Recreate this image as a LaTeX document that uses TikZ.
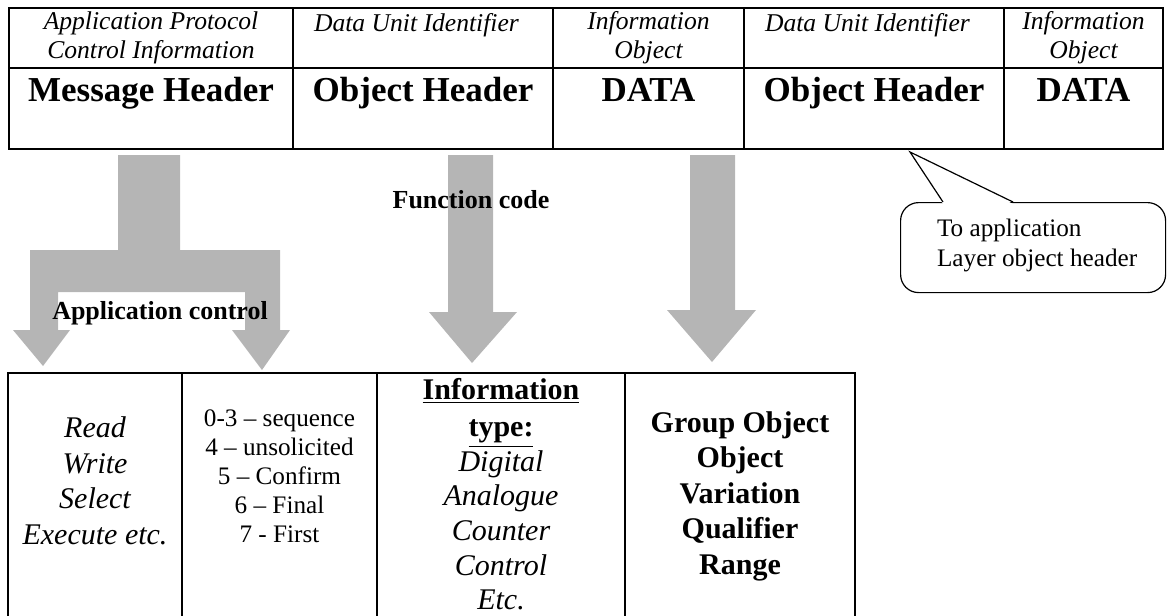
\documentclass[tikz,border=0pt]{standalone}
\usepackage{fontspec}
\setmainfont{Liberation Serif}
\usetikzlibrary{positioning}
\definecolor{arrowgray}{HTML}{B5B5B5}

\begin{document}
\begin{tikzpicture}[
    x=0.5pt, y=-0.5pt,
    cell/.style={
        draw=black, line width=0.9pt,
        inner sep=0pt, outer sep=0pt, anchor=north west
    },
    tagtext/.style={
        font=\fontsize{12.8}{14.5}\selectfont\itshape, align=center
    },
    hdrtext/.style={
        font=\fontsize{17.5}{20}\selectfont\bfseries, anchor=base
    },
    fieldtext/.style={
        font=\fontsize{15}{17.75}\selectfont, align=center
    },
    fieldit/.style={
        fieldtext, font=\fontsize{15}{17.75}\selectfont\itshape
    },
    fieldbf/.style={
        fieldtext, font=\fontsize{15}{17.75}\selectfont\bfseries
    },
    codetext/.style={
        font=\fontsize{12.6}{14.5}\selectfont, align=center
    },
    arrowlabel/.style={
        font=\fontsize{13}{15}\selectfont\bfseries
    },
    blockarrow/.style={
        fill=arrowgray, draw=none
    },
    callout/.style={
        draw=black, line width=0.6pt, rounded corners=9pt, fill=white,
        anchor=north west, minimum width=132.5pt, minimum height=45pt
    },
    notetext/.style={
        font=\fontsize{12.6}{15}\selectfont, align=left
    },
]
\useasboundingbox (0,0) rectangle (1168,616);

% === Block arrows ===
\fill[blockarrow] (118,155) -- (180,155) -- (180,250) -- (280,250) -- (280,330)
    -- (290,330) -- (262,370) -- (232,330) -- (245,330) -- (245,292) -- (58,292)
    -- (58,330) -- (70,330) -- (43,366) -- (13,330) -- (30,330) -- (30,250)
    -- (118,250) -- cycle;
\fill[blockarrow] (448,155) -- (493,155) -- (493,312) -- (517,312) -- (472,363)
    -- (429,312) -- (448,312) -- cycle;
\fill[blockarrow] (690,155) -- (735,155) -- (735,310) -- (756,310) -- (712,362)
    -- (667,310) -- (690,310) -- cycle;

\node[arrowlabel] (apctl) at (160,313) {Application control};
\node[arrowlabel] (fcode) at (471,200) {Function code};

% === Top table: frame layout ===
\foreach \i/\xa/\w in {1/9/142, 2/293/130, 3/553/95.5, 4/744/130, 5/1004/79.5} {
    \node[cell, minimum width=\w pt, minimum height=30pt] (tag\i) at (\xa,8) {};
    \node[cell, minimum width=\w pt, minimum height=40.5pt] (hdr\i) at (\xa,68) {};
}

% Field descriptions
\node[tagtext] (tagtxt1) at (tag1.center) {Application Protocol\\Control Information};
\node[tagtext, anchor=base west] (tagtxt2) at ([shift={(7pt,-11.5pt)}]tag2.north west) {Data Unit Identifier};
\node[tagtext] (tagtxt3) at (tag3.center) {Information\\Object};
\node[tagtext, anchor=base west] (tagtxt4) at ([shift={(7pt,-11.5pt)}]tag4.north west) {Data Unit Identifier};
\node[tagtext] (tagtxt5) at (tag5.center) {Information\\Object};

% Field names
\foreach \i/\t in {1/Message Header, 2/Object Header, 3/DATA, 4/Object Header, 5/DATA} {
    \node[hdrtext] (hdrtxt\i) at ([yshift=-16.75pt]hdr\i.north) {\t};
}

% === Bottom table: header contents ===
\foreach \i/\xa/\w in {1/8/87, 2/182/97.5, 3/377/124, 4/625/115} {
    \node[cell, minimum width=\w pt, minimum height=125pt] (fld\i) at (\xa,373) {};
}

\node[fieldit] (fldtxt1) at ([yshift=-54pt]fld1.north) {
    Read\\Write\\Select\\Execute etc.};
\node[codetext] (fldtxt2) at ([yshift=-51.75pt]fld2.north) {
    0-3 -- sequence\\4 -- unsolicited\\5 -- Confirm\\6 -- Final\\7 - First};
\node[fieldit, font=\fontsize{15}{17.3}\selectfont\itshape] (fldtxt3) at ([yshift=-60.5pt]fld3.north) {
    \textup{\textbf{\underline{Information}}}\\[1.5pt]\textup{\textbf{\underline{type:}}}\\
    Digital\\Analogue\\Counter\\Control\\Etc.};
\node[fieldbf] (fldtxt4) at ([yshift=-61.5pt]fld4.north) {
    Group Object\\Object\\Variation\\Qualifier\\Range};

% === Callout ===
\node[callout] (note) at (900,202) {};
\node[notetext, anchor=west] (notetxt) at ([xshift=15pt, yshift=1pt]note.west) {To application\\Layer object header};
\coordinate (tip) at (910,152);
\fill[white] ([xshift=21.5pt, yshift=-1pt]note.north west) -- (tip)
    -- ([xshift=56.5pt, yshift=-1pt]note.north west) -- cycle;
\draw[line width=0.6pt] ([xshift=21.5pt]note.north west) -- (tip)
    -- ([xshift=56.5pt]note.north west);

\end{tikzpicture}
\end{document}
